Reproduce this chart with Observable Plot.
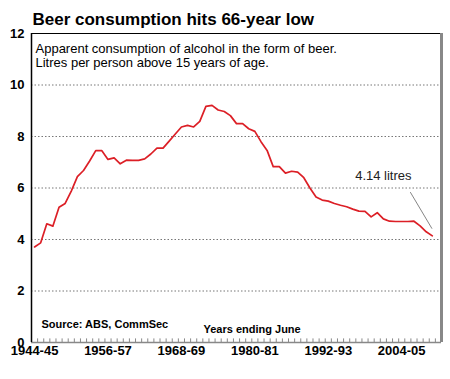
<!DOCTYPE html>
<html><head><meta charset="utf-8">
<script src="https://cdn.jsdelivr.net/npm/d3@7"></script>
<script src="https://cdn.jsdelivr.net/npm/@observablehq/plot@0.6"></script>
<style>body{margin:0;background:#fff;}</style>
</head><body><div id="chart"></div>
<script>
const title = "Beer consumption hits 66-year low";
const subtitle = "Apparent consumption of alcohol in the form of beer.\nLitres per person above 15 years of age.";
const source = "Source: ABS, CommSec";
const xTitle = "Years ending June";
const years = ["1944-45","1945-46","1946-47","1947-48","1948-49","1949-50","1950-51","1951-52","1952-53","1953-54",
"1954-55","1955-56","1956-57","1957-58","1958-59","1959-60","1960-61","1961-62","1962-63","1963-64",
"1964-65","1965-66","1966-67","1967-68","1968-69","1969-70","1970-71","1971-72","1972-73","1973-74",
"1974-75","1975-76","1976-77","1977-78","1978-79","1979-80","1980-81","1981-82","1982-83","1983-84",
"1984-85","1985-86","1986-87","1987-88","1988-89","1989-90","1990-91","1991-92","1992-93","1993-94",
"1994-95","1995-96","1996-97","1997-98","1998-99","1999-00","2000-01","2001-02","2002-03","2003-04",
"2004-05","2005-06","2006-07","2007-08","2008-09","2009-10"];
const litres = [3.71,3.87,4.61,4.52,5.25,5.40,5.88,6.44,6.68,7.05,
7.45,7.45,7.11,7.17,6.94,7.08,7.07,7.07,7.13,7.32,
7.55,7.55,7.82,8.10,8.37,8.43,8.37,8.59,9.17,9.21,
9.03,8.97,8.81,8.50,8.50,8.30,8.20,7.80,7.46,6.83,
6.83,6.58,6.65,6.62,6.40,6.00,5.65,5.53,5.49,5.40,
5.33,5.27,5.18,5.10,5.09,4.88,5.04,4.80,4.71,4.70,
4.70,4.70,4.71,4.53,4.30,4.14];
const xTickLabels = ["1944-45","1956-57","1968-69","1980-81","1992-93","2004-05"];
const yTicks = [0,2,4,6,8,10,12];
const gridValues = [2,4,6,8,10];
const annoText = ["4.14 litres"];
const annoLink = [{x1: 61.4, y1: 5.84, x2: 64.95, y2: 4.42}];
const annoPos = [{x: 57, y: 6.68}];

const data = litres.map((v, i) => ({i, year: years[i], v}));
const nCat = years.length + 1; // axis has one extra empty category
const boundaries = d3.range(nCat + 1).map(k => k - 0.5);
const tickIdx = xTickLabels.map(l => years.indexOf(l));

const font = "'Liberation Sans', Arial, sans-serif";
const chart = Plot.plot({
  width: 450, height: 379,
  marginTop: 33, marginLeft: 31, marginRight: 9, marginBottom: 37,
  style: {fontFamily: font, background: "#fff", color: "#000", overflow: "visible"},
  x: {domain: [-0.5, nCat - 0.5]},
  y: {domain: [0, 12]},
  marks: [
    Plot.ruleY(gridValues, {stroke: "#777", strokeDasharray: "1.5,2", strokeWidth: 1}),
    Plot.ruleX(boundaries, {y1: 0, y2: 0.14, stroke: "#888", strokeWidth: 1}),
    Plot.ruleY([0], {stroke: "#888", strokeWidth: 1.5}),
    Plot.ruleY([12], {stroke: "#000", strokeWidth: 1.2}),
    Plot.ruleX([-0.5], {stroke: "#000", strokeWidth: 1.5}),
    Plot.ruleX([nCat - 0.5], {stroke: "#888", strokeWidth: 3}),
    Plot.line(data, {x: "i", y: "v", stroke: "#dc1f26", strokeWidth: 1.7}),
    Plot.link(annoLink, {x1: "x1", y1: "y1", x2: "x2", y2: "y2", stroke: "#666", strokeWidth: 0.8}),
    Plot.text(annoPos, {x: "x", y: "y", text: () => annoText[0], fontSize: 13, textAnchor: "middle", lineAnchor: "top", fill: "#222"}),
    Plot.axisX(tickIdx, {tickFormat: i => years[i], tickSize: 0, tickPadding: 3, fontSize: 13, fontWeight: "bold", fill: "#000", label: null}),
    Plot.axisY(yTicks, {tickSize: 0, tickPadding: 7, fontSize: 13, fontWeight: "bold", fill: "#000", label: null}),
    Plot.text([title], {frameAnchor: "top-left", dx: 1, dy: -21, fontSize: 17, fontWeight: "bold", textAnchor: "start", lineAnchor: "top", fill: "#000"}),
    Plot.text([subtitle], {frameAnchor: "top-left", dx: 4, dy: 9, fontSize: 13, textAnchor: "start", lineAnchor: "top", lineHeight: 1.12, fill: "#000"}),
    Plot.text([source], {frameAnchor: "bottom-left", dx: 10, dy: -22, fontSize: 11, fontWeight: "bold", textAnchor: "start", lineAnchor: "top", fill: "#000"}),
    Plot.text([xTitle], {frameAnchor: "bottom-left", dx: 172, dy: -17, fontSize: 11, fontWeight: "bold", textAnchor: "start", lineAnchor: "top", fill: "#000"})
  ]
});
document.getElementById("chart").appendChild(chart);
</script>
</body></html>
